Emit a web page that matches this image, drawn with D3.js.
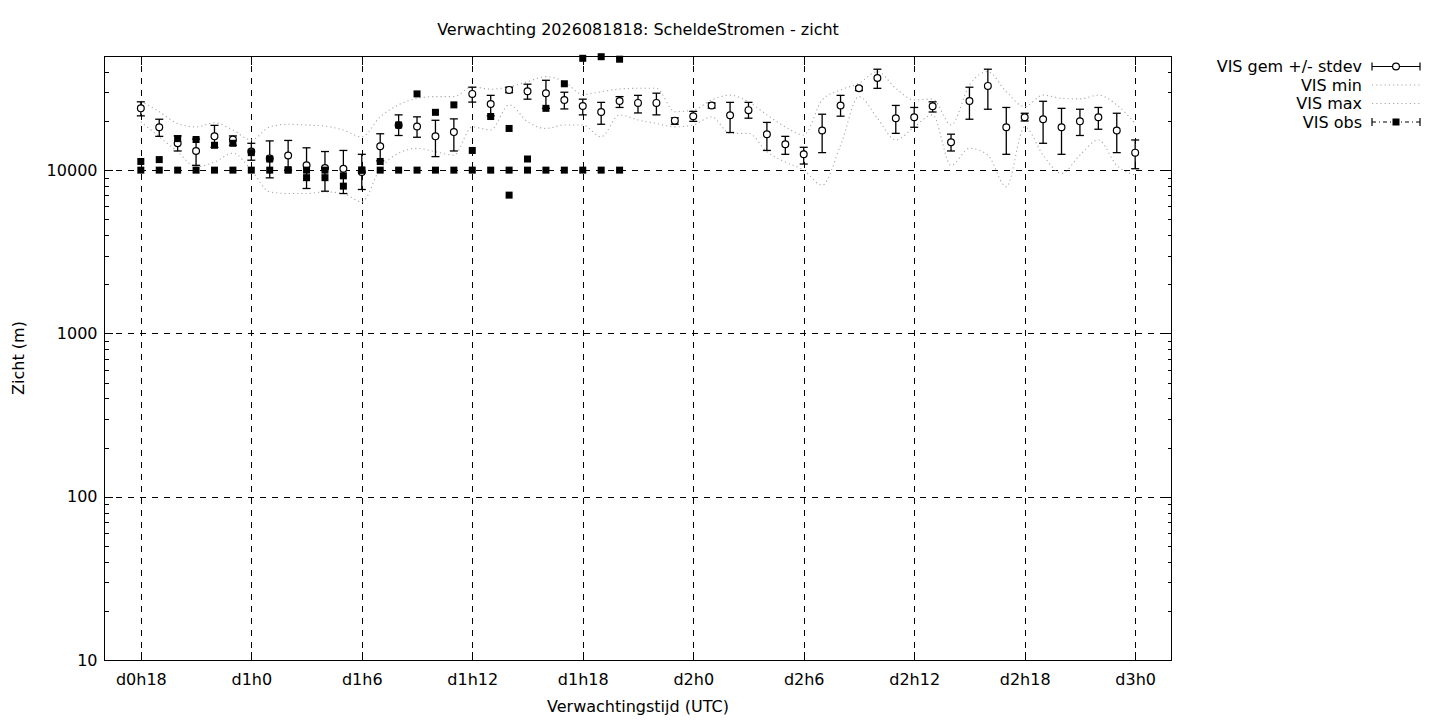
<!DOCTYPE html>
<html>
<head>
<meta charset="utf-8">
<script src="https://cdn.jsdelivr.net/npm/d3@7"></script>
<style>
  body { margin: 0; background: #fff; }
  text { font-family: "DejaVu Sans", sans-serif; font-size: 16px; fill: #000; }
</style>
</head>
<body>
<svg id="chart" width="1440" height="720"></svg>
<script>
// ---------------- DATA ----------------
const title = "Verwachting 2026081818: ScheldeStromen - zicht";
const xLabel = "Verwachtingstijd (UTC)";
const yLabel = "Zicht (m)";

// forecast hours (relative to d0h0)
const hours = [18,19,20,21,22,23,24,25,26,27,28,29,30,31,32,33,34,35,36,37,38,39,40,41,42,43,44,45,46,47,48,49,50,51,52,53,54,55,56,57,58,59,60,61,62,63,64,65,66,67,68,69,70,71,72];

const xTickHours  = [18, 24, 30, 36, 42, 48, 54, 60, 66, 72];
const xTickLabels = ["d0h18","d1h0","d1h6","d1h12","d1h18","d2h0","d2h6","d2h12","d2h18","d3h0"];
const yTickValues = [10, 100, 1000, 10000];

// VIS gem (mean) and mean +/- stdev
const visGem = [23900,18300,14600,13100,16100,15400,13000,11800,12300,10700,10300,10200,9750,14000,18800,18500,16100,17100,29300,25400,31000,30400,29600,26900,24700,22700,26500,25800,25800,20100,21400,24900,21700,23300,16600,14400,12500,17500,24900,31700,36700,20800,21100,24600,14800,26500,32800,18300,21100,20500,18300,19900,21100,17500,12800];
const visGemHi = [26200,20500,16200,15500,18800,16200,14600,15100,15200,13700,13000,13200,12500,16700,21800,21200,20200,20600,32200,28700,32200,33600,35500,30000,27200,26000,28200,28700,29600,20900,22900,25800,26000,26000,19600,16100,13800,22000,28700,32400,41500,24900,24200,26200,16600,32200,41500,24200,22300,26400,23900,23600,24200,22300,15300];
const visGemLo = [21500,16100,13100,10700,13800,14200,11500,8970,10000,7720,7430,7190,7610,11400,16300,15900,12100,13100,26100,21500,29800,27200,23900,23700,21800,19100,24200,22400,21800,19100,19900,24000,17000,20800,13200,12500,10900,12800,21400,30700,31700,16800,18300,22700,13100,20500,23600,12500,20000,14600,12500,16300,17800,12800,10200];

// VIS min / max
const visMin = [19800,16000,12950,10500,11200,12700,10000,7360,7190,7190,7360,7190,6390,10200,12700,13600,12950,12360,18400,17600,25100,19800,18000,18900,18900,16000,21800,20300,19300,18400,18900,21200,16800,16800,12950,11200,10000,8090,14200,28200,20800,15300,18400,21800,10700,13600,12360,7900,18400,12360,9550,12360,15300,10700,9320];
const visMax = [26500,22800,19300,18400,19500,17600,15300,18400,19100,18900,18600,17600,16000,21200,25100,27500,28200,28200,32400,31300,32400,34800,37400,34800,29100,30200,31400,31700,31700,22800,23300,26900,28800,26200,21800,18400,16400,26900,31000,34000,40100,31700,26900,27300,18900,33200,40100,30200,24500,28800,27500,27300,28800,25100,19300];

// VIS obs (several stations per hour)
const obsTime = [18,18,19,19,20,20,21,21,22,22,23,23,24,24,25,25,26,26,27,27,28,28,29,29,30,30,31,31,32,32,33,33,34,34,35,35,36,36,37,37,38,38,38,39,39,40,40,41,41,42,42,43,43,44,44];
const obsVis  = [11300,10000,11600,10000,15600,10000,15400,10000,14200,10000,14600,10000,12800,10000,11700,10000,10050,10000,8990,10000,8990,10000,7980,9230,10000,10000,11300,10000,18900,10000,29300,10000,22600,10000,25100,10000,13200,10000,21300,10000,18000,10000,7030,11700,10000,23900,10000,33800,10000,48400,10000,49500,10000,47800,10000];

const legendLabels = ["VIS gem +/- stdev", "VIS min", "VIS max", "VIS obs"];

// ---------------- CHART ----------------
const X0 = 104, X1 = 1172, Y0 = 56, Y1 = 660;
const svg = d3.select("#chart");

const x = d3.scaleLinear().domain([16, 74]).range([X0, X1]);
const y = d3.scaleLog().domain([10, 50000]).range([Y1, Y0]);

const minorTicks = y.ticks().filter(v => !yTickValues.includes(v) && v !== 50000);

// grid
const grid = svg.append("g").attr("stroke", "#000").attr("stroke-width", 1)
  .attr("stroke-dasharray", "6,6").attr("shape-rendering", "crispEdges");
grid.selectAll("line.h").data(yTickValues.filter(v => v > 10)).join("line")
  .attr("x1", X0).attr("x2", X1)
  .attr("y1", d => Math.round(y(d)) + 0.5).attr("y2", d => Math.round(y(d)) + 0.5);
grid.selectAll("line.v").data(xTickHours).join("line")
  .attr("y1", Y1).attr("y2", Y0)
  .attr("x1", d => Math.round(x(d)) + 0.5).attr("x2", d => Math.round(x(d)) + 0.5);

// min / max lines
const lineGen = arr => d3.line()
  .x((d, i) => x(hours[i]))
  .y(d => y(d))
  .curve(d3.curveMonotoneX)(arr);

svg.append("path").attr("d", lineGen(visMin))
  .attr("fill", "none").attr("stroke", "#aaaaaa").attr("stroke-width", 1.1)
  .attr("stroke-dasharray", "1.2,3");
svg.append("path").attr("d", lineGen(visMax))
  .attr("fill", "none").attr("stroke", "#aaaaaa").attr("stroke-width", 1.1)
  .attr("stroke-dasharray", "1.2,3");

// error bars
const eb = svg.append("g").attr("stroke", "#000").attr("stroke-width", 1.3);
const gemData = hours.map((h, i) => ({ h, m: visGem[i], lo: visGemLo[i], hi: visGemHi[i] }));
eb.selectAll("line.bar").data(gemData).join("line")
  .attr("x1", d => x(d.h)).attr("x2", d => x(d.h))
  .attr("y1", d => y(d.lo)).attr("y2", d => y(d.hi));
eb.selectAll("line.capHi").data(gemData).join("line")
  .attr("x1", d => x(d.h) - 4).attr("x2", d => x(d.h) + 4)
  .attr("y1", d => y(d.hi)).attr("y2", d => y(d.hi));
eb.selectAll("line.capLo").data(gemData).join("line").attr("class", "lo")
  .attr("x1", d => x(d.h) - 4).attr("x2", d => x(d.h) + 4)
  .attr("y1", d => y(d.lo)).attr("y2", d => y(d.lo));
svg.append("g").selectAll("circle").data(gemData).join("circle")
  .attr("cx", d => x(d.h)).attr("cy", d => y(d.m)).attr("r", 3.4)
  .attr("fill", "#fff").attr("stroke", "#000").attr("stroke-width", 1.2);

// observations
const obsData = obsTime.map((t, i) => ({ t, v: obsVis[i] }));
svg.append("g").selectAll("rect").data(obsData).join("rect")
  .attr("x", d => x(d.t) - 3.5).attr("y", d => y(d.v) - 3.5)
  .attr("width", 7).attr("height", 7).attr("fill", "#000");

// border
svg.append("rect").attr("x", X0 + 0.5).attr("y", Y0 + 0.5)
  .attr("width", X1 - X0 - 1).attr("height", Y1 - Y0)
  .attr("fill", "none").attr("stroke", "#000").attr("stroke-width", 1)
  .attr("shape-rendering", "crispEdges");

// axes
function styleAxis(g) {
  g.select(".domain").remove();
  g.attr("font-family", null).attr("font-size", null);
  g.selectAll("line").attr("stroke", "#000").attr("shape-rendering", "crispEdges");
  g.selectAll("text").attr("fill", "#000");
}
svg.append("g").attr("transform", `translate(${X0 + 0.5},0)`)
  .call(d3.axisLeft(y).tickValues(yTickValues).tickFormat(d3.format("d")).tickSize(-8).tickPadding(7))
  .call(styleAxis);
svg.append("g").attr("transform", `translate(${X0 + 0.5},0)`)
  .call(d3.axisLeft(y).tickValues(minorTicks).tickFormat("").tickSize(-4))
  .call(styleAxis);
svg.append("g").attr("transform", `translate(${X1 - 0.5},0)`)
  .call(d3.axisRight(y).tickValues(yTickValues).tickFormat("").tickSize(-8))
  .call(styleAxis);
svg.append("g").attr("transform", `translate(${X1 - 0.5},0)`)
  .call(d3.axisRight(y).tickValues(minorTicks).tickFormat("").tickSize(-4))
  .call(styleAxis);
svg.append("g").attr("transform", `translate(0,${Y1})`)
  .call(d3.axisBottom(x).tickValues(xTickHours).tickFormat((d, i) => xTickLabels[i]).tickSize(-8).tickPadding(14))
  .call(styleAxis);
svg.append("g").attr("transform", `translate(0,${Y0 + 0.5})`)
  .call(d3.axisTop(x).tickValues(xTickHours).tickFormat("").tickSize(-8))
  .call(styleAxis);

// titles
svg.append("text").attr("x", (X0 + X1) / 2).attr("y", 35).attr("text-anchor", "middle").text(title);
svg.append("text").attr("x", (X0 + X1) / 2).attr("y", 712).attr("text-anchor", "middle").text(xLabel);
svg.append("text").attr("transform", "translate(24,358) rotate(-90)").attr("text-anchor", "middle").text(yLabel);

// legend
const lg = svg.append("g");
const LX0 = 1372, LX1 = 1420, LXC = 1396;
legendLabels.forEach((lab, i) => {
  const ly = 66.5 + i * 18.5;
  lg.append("text").attr("x", 1362).attr("y", ly + 5.5).attr("text-anchor", "end").text(lab);
  if (i === 0 || i === 3) {
    lg.append("line").attr("x1", LX0).attr("x2", LX1).attr("y1", ly).attr("y2", ly)
      .attr("stroke", "#000").attr("stroke-width", 1.2)
      .attr("stroke-dasharray", i === 3 ? "4,3,1,3" : null);
    [LX0, LX1].forEach(cx => lg.append("line").attr("x1", cx).attr("x2", cx)
      .attr("y1", ly - 4).attr("y2", ly + 4).attr("stroke", "#000").attr("stroke-width", 1.2));
    if (i === 0) {
      lg.append("circle").attr("cx", LXC).attr("cy", ly).attr("r", 3.4)
        .attr("fill", "#fff").attr("stroke", "#000").attr("stroke-width", 1.2);
    } else {
      lg.append("rect").attr("x", LXC - 3.5).attr("y", ly - 3.5).attr("width", 7).attr("height", 7).attr("fill", "#000");
    }
  } else {
    lg.append("line").attr("x1", LX0).attr("x2", LX1).attr("y1", ly).attr("y2", ly)
      .attr("stroke", "#aaaaaa").attr("stroke-width", 1.1).attr("stroke-dasharray", "1.2,3");
  }
});
</script>
</body>
</html>
